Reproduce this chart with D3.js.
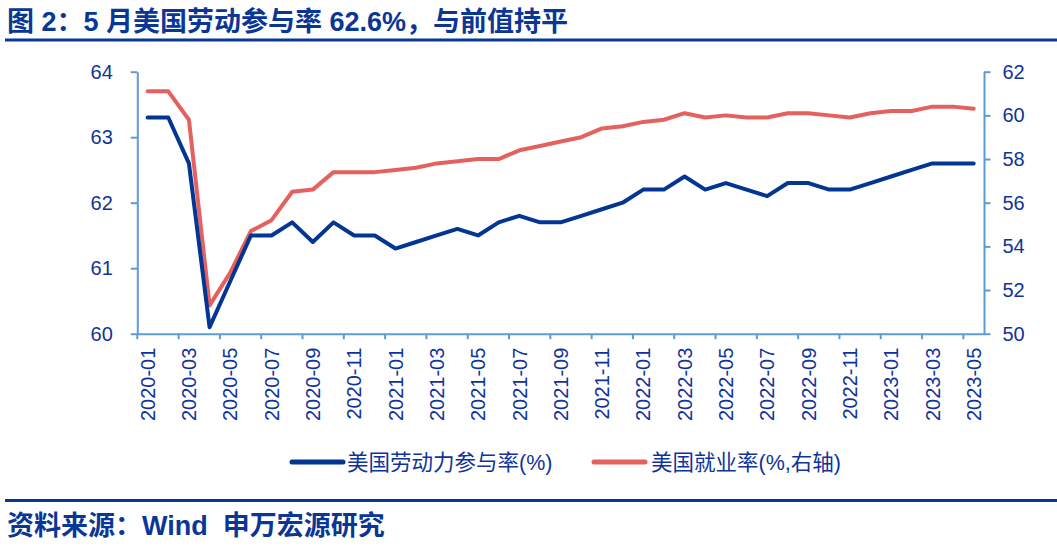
<!DOCTYPE html>
<html>
<head>
<meta charset="utf-8">
<script src="https://cdn.jsdelivr.net/npm/d3@7"></script>
<style>
  html, body { margin: 0; padding: 0; background: #ffffff; }
  svg { display: block; }
  text { font-family: "Liberation Sans", Arial, "Noto Sans CJK SC", sans-serif; }
</style>
</head>
<body>
<svg id="chart" width="1057" height="554"></svg>
<script>
// ---------------- data ----------------
const months = [
  "2020-01","2020-02","2020-03","2020-04","2020-05","2020-06","2020-07","2020-08","2020-09","2020-10","2020-11","2020-12",
  "2021-01","2021-02","2021-03","2021-04","2021-05","2021-06","2021-07","2021-08","2021-09","2021-10","2021-11","2021-12",
  "2022-01","2022-02","2022-03","2022-04","2022-05","2022-06","2022-07","2022-08","2022-09","2022-10","2022-11","2022-12",
  "2023-01","2023-02","2023-03","2023-04","2023-05"
];
// 美国劳动力参与率(%) — left axis
const participationRate = [
  63.3,63.3,62.6,60.1,60.8,61.5,61.5,61.7,61.4,61.7,61.5,61.5,
  61.3,61.4,61.5,61.6,61.5,61.7,61.8,61.7,61.7,61.8,61.9,62.0,
  62.2,62.2,62.4,62.2,62.3,62.2,62.1,62.3,62.3,62.2,62.2,62.3,
  62.4,62.5,62.6,62.6,62.6
];
// 美国就业率(%, 右轴) — right axis
const employmentRate = [
  61.1,61.1,59.8,51.3,52.8,54.7,55.2,56.5,56.6,57.4,57.4,57.4,
  57.5,57.6,57.8,57.9,58.0,58.0,58.4,58.6,58.8,59.0,59.4,59.5,
  59.7,59.8,60.1,59.9,60.0,59.9,59.9,60.1,60.1,60.0,59.9,60.1,
  60.2,60.2,60.4,60.4,60.3
];
const leftTicks = [60, 61, 62, 63, 64];
const rightTicks = [50, 52, 54, 56, 58, 60, 62];
const xTickLabels = months.filter((d, i) => i % 2 === 0);

const titleText = "图 2：5 月美国劳动参与率 62.6%，与前值持平";
const sourceText = "资料来源：Wind  申万宏源研究";
const seriesNames = ["美国劳动力参与率(%)", "美国就业率(%,右轴)"];

// ---------------- styles ----------------
const navy = "#0a3696";
const blueLine = "#033592";
const redLine = "#e5615f";
const axisColor = "#5e9bd6";
const labelColor = "#10339a";

const svg = d3.select("#chart");
const plotLeft = 137.3, plotRight = 984, plotTop = 71.7, plotBottom = 333.7;

const x = d3.scaleBand().domain(months).range([plotLeft, plotRight]).padding(0);
const bw = x.bandwidth();
const yL = d3.scaleLinear().domain([60, 64]).range([plotBottom, plotTop]);
const yR = d3.scaleLinear().domain([50, 62]).range([plotBottom, plotTop]);

// title
svg.append("text")
  .attr("x", 7).attr("y", 31)
  .attr("fill", navy)
  .attr("font-size", 27).attr("font-weight", "bold")
  .text(titleText);
svg.append("rect").attr("x", 5).attr("y", 38.5).attr("width", 1052).attr("height", 3).attr("fill", navy);

// footer
svg.append("rect").attr("x", 5).attr("y", 499).attr("width", 1052).attr("height", 3).attr("fill", navy);
svg.append("text")
  .attr("x", 7).attr("y", 535)
  .attr("fill", navy)
  .attr("font-size", 27).attr("font-weight", "bold")
  .style("white-space", "pre")
  .text(sourceText);

// axes
function styleAxis(g) {
  g.select(".domain").attr("stroke", axisColor).attr("stroke-width", 2);
  g.selectAll(".tick line").attr("stroke", axisColor).attr("stroke-width", 2);
  g.selectAll(".tick text").attr("fill", labelColor).attr("font-family", "'Liberation Sans', Arial, sans-serif");
}

const gL = svg.append("g").attr("transform", `translate(${plotLeft},0)`)
  .call(d3.axisLeft(yL).tickValues(leftTicks).tickSize(6.5).tickSizeOuter(0).tickPadding(18).tickFormat(d3.format("d")));
styleAxis(gL);
gL.selectAll(".tick text").attr("font-size", 20);

const gR = svg.append("g").attr("transform", `translate(${plotRight},0)`)
  .call(d3.axisRight(yR).tickValues(rightTicks).tickSize(6.5).tickSizeOuter(0).tickPadding(12).tickFormat(d3.format("d")));
styleAxis(gR);
gR.selectAll(".tick text").attr("font-size", 20);

const gX = svg.append("g").attr("transform", `translate(0,${plotBottom})`)
  .call(d3.axisBottom(x).tickValues(xTickLabels).tickSize(5.5).tickSizeOuter(0).tickPadding(0));
styleAxis(gX);
gX.selectAll(".tick line").attr("transform", `translate(${-bw / 2},0)`);
gX.selectAll(".tick text")
  .attr("font-size", 20)
  .attr("text-anchor", "end")
  .attr("transform", "rotate(-90)")
  .attr("x", -14)
  .attr("y", 0)
  .attr("dy", "0.36em");

// lines
const lineL = d3.line().x((d, i) => x(months[i]) + bw / 2).y(d => yL(d));
const lineR = d3.line().x((d, i) => x(months[i]) + bw / 2).y(d => yR(d));

svg.append("path").datum(employmentRate)
  .attr("d", lineR).attr("fill", "none").attr("stroke", redLine)
  .attr("stroke-width", 4).attr("stroke-linejoin", "round").attr("stroke-linecap", "round");
svg.append("path").datum(participationRate)
  .attr("d", lineL).attr("fill", "none").attr("stroke", blueLine)
  .attr("stroke-width", 4).attr("stroke-linejoin", "round").attr("stroke-linecap", "round");

// legend
const legend = svg.append("g");
const legendItems = [
  { name: seriesNames[0], color: blueLine, x0: 292, x1: 343, tx: 347 },
  { name: seriesNames[1], color: redLine, x0: 594, x1: 645, tx: 651 }
];
legendItems.forEach(it => {
  legend.append("line").attr("x1", it.x0).attr("x2", it.x1).attr("y1", 462).attr("y2", 462)
    .attr("stroke", it.color).attr("stroke-width", 5).attr("stroke-linecap", "round");
  legend.append("text").attr("x", it.tx).attr("y", 470)
    .attr("fill", labelColor).attr("font-size", 21.5)
    .text(it.name);
});
</script>
</body>
</html>
